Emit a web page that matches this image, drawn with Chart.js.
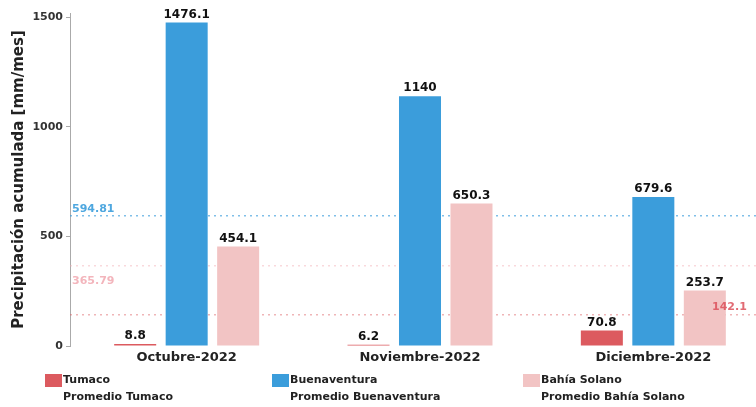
<!DOCTYPE html>
<html>
<head>
<meta charset="utf-8">
<script src="https://cdn.jsdelivr.net/npm/chart.js@4.4.0/dist/chart.umd.min.js"></script>
<style>
  html, body { margin: 0; padding: 0; background: #fff; }
  #wrap { position: relative; width: 756px; height: 407px; overflow: hidden; }
  #chart { position: absolute; left: 0; top: 0; }
  .leg { position: absolute; font: bold 11px "DejaVu Sans", sans-serif; color: #222; white-space: nowrap; }
  .box { position: absolute; width: 17px; height: 13px; }
</style>
</head>
<body>
<div id="wrap">
  <canvas id="chart" width="776" height="407"></canvas>
  <div class="box" style="left:45px; top:374px; background:#dc5a5f;"></div>
  <div class="leg" style="left:63px; top:373px;">Tumaco</div>
  <div class="leg" style="left:63px; top:390px;">Promedio Tumaco</div>
  <div class="box" style="left:272px; top:374px; background:#3b9ddb;"></div>
  <div class="leg" style="left:290px; top:373px;">Buenaventura</div>
  <div class="leg" style="left:290px; top:390px;">Promedio Buenaventura</div>
  <div class="box" style="left:523px; top:374px; background:#f2c4c4;"></div>
  <div class="leg" style="left:541px; top:373px;">Bahía Solano</div>
  <div class="leg" style="left:541px; top:390px;">Promedio Bahía Solano</div>
</div>
<script>
// Precipitación acumulada mensual por estación
const meses = ['Octubre-2022', 'Noviembre-2022', 'Diciembre-2022'];
const tumaco = [8.8, 6.2, 70.8];
const buenaventura = [1476.1, 1140, 679.6];
const bahiaSolano = [454.1, 650.3, 253.7];

// Promedios históricos
const promTumaco = 142.1;
const promBuenaventura = 594.81;
const promBahiaSolano = 365.79;

const yTicks = [0, 500, 1000, 1500];

const FONT = '"DejaVu Sans", sans-serif';

const promedios = [
    { value: promBuenaventura, color: 'rgba(59,157,219,0.65)', text: 'rgba(59,157,219,0.9)', label: '594.81', x: 72, dy: -4 },
    { value: promBahiaSolano, color: 'rgba(242,170,178,0.45)', text: 'rgba(238,150,160,0.7)', label: '365.79', x: 72, dy: 18 },
    { value: promTumaco, color: 'rgba(220,90,95,0.45)', text: 'rgba(220,80,90,0.85)', label: '142.1', x: 712, dy: -5 }
];

// dotted average lines go behind the bars, their labels on top
const avgLines = {
    id: 'avgLines',
    beforeDatasetsDraw(chart) {
        const { ctx, chartArea, scales } = chart;
        ctx.save();
        promedios.forEach(p => {
            const y = scales.y.getPixelForValue(p.value);
            ctx.strokeStyle = p.color;
            ctx.lineWidth = 1.5;
            ctx.setLineDash([2, 4]);
            ctx.beginPath();
            ctx.moveTo(chartArea.left, y);
            ctx.lineTo(chartArea.right, y);
            ctx.stroke();
        });
        ctx.restore();
    },
    afterDatasetsDraw(chart) {
        const { ctx, scales } = chart;
        ctx.save();
        ctx.font = 'bold 11px ' + FONT;
        ctx.textAlign = 'left';
        ctx.textBaseline = 'alphabetic';
        promedios.forEach(p => {
            const y = scales.y.getPixelForValue(p.value);
            ctx.fillStyle = p.text;
            ctx.fillText(p.label, p.x, y + p.dy);
        });
        ctx.restore();
    }
};

// value labels on top of each bar
const barLabels = {
    id: 'barLabels',
    afterDatasetsDraw(chart) {
        const { ctx } = chart;
        ctx.save();
        ctx.font = 'bold 12px ' + FONT;
        ctx.fillStyle = '#111';
        ctx.textAlign = 'center';
        ctx.textBaseline = 'bottom';
        chart.data.datasets.forEach((ds, i) => {
            const meta = chart.getDatasetMeta(i);
            meta.data.forEach((bar, j) => {
                ctx.fillText(String(ds.data[j]), bar.x, bar.y - 2);
            });
        });
        ctx.restore();
    }
};

new Chart(document.getElementById('chart'), {
    type: 'bar',
    data: {
        labels: meses,
        datasets: [{
            label: 'Tumaco',
            data: tumaco,
            backgroundColor: '#dc5a5f'
        }, {
            label: 'Buenaventura',
            data: buenaventura,
            backgroundColor: '#3b9ddb'
        }, {
            label: 'Bahía Solano',
            data: bahiaSolano,
            backgroundColor: '#f2c4c4'
        }]
    },
    options: {
        responsive: false,
        animation: false,
        categoryPercentage: 0.662,
        barPercentage: 0.816,
        layout: { padding: { top: 13, right: 6, left: 0, bottom: 0 } },
        scales: {
            x: {
                grid: { display: false },
                border: { display: false },
                ticks: {
                    color: '#222',
                    padding: -4,
                    font: { family: FONT, size: 13, weight: 'bold' }
                },
                afterFit(scale) { scale.height = 61; }
            },
            y: {
                min: 0,
                max: 1520,
                afterBuildTicks(scale) {
                    scale.ticks = yTicks.map(v => ({ value: v }));
                },
                grid: { drawOnChartArea: false, tickLength: 4, color: '#aaa' },
                border: { display: true, color: '#aaa' },
                ticks: {
                    color: '#333',
                    padding: 3,
                    callback: v => String(v),
                    font: { family: FONT, size: 11, weight: 'bold' }
                },
                title: {
                    display: true,
                    text: 'Precipitación acumulada [mm/mes]',
                    color: '#222',
                    padding: { top: 10, bottom: 0 },
                    font: { family: FONT, size: 15, weight: 'bold' }
                },
                afterFit(scale) { scale.width = 70; }
            }
        },
        plugins: {
            legend: { display: false },
            tooltip: { enabled: false }
        }
    },
    plugins: [avgLines, barLabels]
});
</script>
</body>
</html>
